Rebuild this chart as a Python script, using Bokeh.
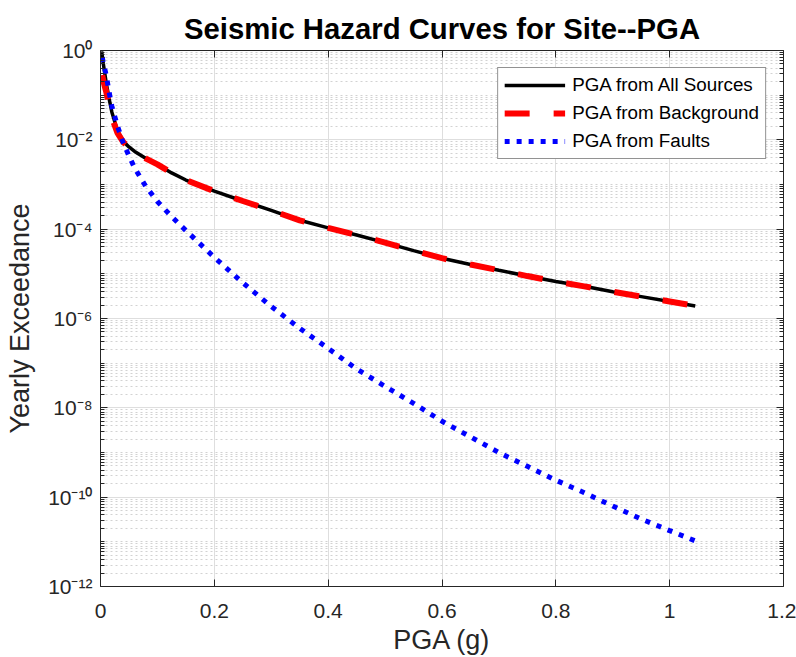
from bokeh.plotting import figure
from bokeh.models import FixedTicker, LogAxis, LinearAxis, Range1d, CustomJSTickFormatter
from bokeh.embed import file_html
from bokeh.resources import INLINE

# ---- data ----
pga_all = [0.002, 0.005, 0.01, 0.015, 0.02, 0.03, 0.04, 0.05, 0.06, 0.08, 0.1, 0.125, 0.15,
           0.2, 0.25, 0.3, 0.35, 0.4, 0.45, 0.5, 0.55, 0.6, 0.65, 0.7, 0.75, 0.8, 0.85,
           0.9, 0.95, 1.0, 1.045]
haz_all = [0.955, 0.50, 0.19, 0.0851, 0.0417, 0.0158, 0.00933, 0.00692, 0.00550, 0.00380,
           0.00282, 0.00182, 0.00126, 7.08e-4, 4.27e-4, 2.63e-4, 1.58e-4, 1.07e-4, 7.41e-5,
           5.01e-5, 3.31e-5, 2.24e-5, 1.62e-5, 1.20e-5, 8.91e-6, 6.76e-6, 5.25e-6, 3.98e-6,
           3.09e-6, 2.40e-6, 1.91e-6]

pga_bg = [0.003, 0.005, 0.01, 0.015, 0.02, 0.03, 0.04, 0.05, 0.06, 0.08, 0.1, 0.125, 0.15,
          0.2, 0.25, 0.3, 0.35, 0.4, 0.45, 0.5, 0.55, 0.6, 0.65, 0.7, 0.75, 0.8, 0.85,
          0.9, 0.95, 1.0, 1.045]
haz_bg = [0.282, 0.209, 0.120, 0.0603, 0.0316, 0.0141, 0.00891, 0.00676, 0.00550, 0.00380,
          0.00282, 0.00182, 0.00126, 7.08e-4, 4.27e-4, 2.63e-4, 1.58e-4, 1.07e-4, 7.41e-5,
          5.01e-5, 3.31e-5, 2.24e-5, 1.62e-5, 1.20e-5, 8.91e-6, 6.76e-6, 5.25e-6, 3.98e-6,
          3.09e-6, 2.40e-6, 1.91e-6]

pga_flt = [0.003, 0.005, 0.01, 0.015, 0.02, 0.03, 0.04, 0.05, 0.06, 0.08, 0.1, 0.125, 0.15,
           0.2, 0.25, 0.3, 0.35, 0.4, 0.45, 0.5, 0.55, 0.6, 0.65, 0.7, 0.75, 0.8, 0.85,
           0.9, 0.95, 1.0, 1.045]
haz_flt = [0.708, 0.525, 0.282, 0.120, 0.0562, 0.0200, 0.00851, 0.00437, 0.00234, 8.91e-4,
           4.17e-4, 1.91e-4, 9.33e-5, 2.34e-5, 6.31e-6, 1.86e-6, 6.03e-7, 2.14e-7, 7.41e-8,
           3.02e-8, 1.26e-8, 5.01e-9, 2.24e-9, 1.0e-9, 4.90e-10, 2.40e-10, 1.26e-10,
           6.31e-11, 3.24e-11, 1.78e-11, 1.05e-11]

series_labels = ["PGA from All Sources", "PGA from Background", "PGA from Faults"]

x_ticks = [0, 0.2, 0.4, 0.6, 0.8, 1.0, 1.2]
x_tick_labels = ["0", "0.2", "0.4", "0.6", "0.8", "1", "1.2"]
y_ticks = [1e0, 1e-2, 1e-4, 1e-6, 1e-8, 1e-10, 1e-12]
y_tick_labels = ["10\u2070", "10\u207b\u00b2", "10\u207b\u2074", "10\u207b\u2076",
                 "10\u207b\u2078", "10\u207b\u00b9\u2070", "10\u207b\u00b9\u00b2"]

title_text = "Seismic Hazard Curves for Site--PGA"
x_label = "PGA (g)"
y_label = "Yearly Exceedance"

# minor tick positions on the log axis (1..9 x each decade)
y_minor = []
for e in range(-12, 0):
    for m in range(1, 10):
        if m == 1 and (e % 2 == 0):
            continue
        y_minor.append(float(f"{m}e{e}"))

FONT = "Liberation Sans"
AX = "#262626"

p = figure(width=796, height=657, x_range=Range1d(0, 1.2), y_range=Range1d(1e-12, 1.0),
           y_axis_type="log", output_backend="svg", toolbar_location=None,
           min_border_left=100, min_border_right=13, min_border_top=50, min_border_bottom=70,
           title=title_text)

p.background_fill_color = "white"
p.border_fill_color = "white"
p.outline_line_color = None

p.title.text_font = FONT
p.title.text_font_size = "29.3px"
p.title.text_font_style = "bold"
p.title.text_color = "black"
p.title.align = "center"
p.title.standoff = 12

xt = FixedTicker(ticks=x_ticks)
yt = FixedTicker(ticks=y_ticks, minor_ticks=y_minor)

xa = p.xaxis[0]
ya = p.yaxis[0]
xa.ticker = xt
ya.ticker = yt
xa.major_label_overrides = dict(zip(x_ticks, x_tick_labels))
ya.major_label_overrides = dict(zip(y_ticks, y_tick_labels))
xa.axis_label = x_label
ya.axis_label = y_label

for ax in (xa, ya):
    ax.axis_line_color = AX
    ax.axis_line_width = 1
    ax.major_tick_line_color = AX
    ax.major_tick_in = 7
    ax.major_tick_out = 0
    ax.minor_tick_in = 4
    ax.minor_tick_out = 0
    ax.minor_tick_line_color = AX
    ax.major_label_text_font = FONT
    ax.major_label_text_font_size = "21px"
    ax.major_label_text_color = AX
    ax.axis_label_text_font = FONT
    ax.axis_label_text_font_size = "27px"
    ax.axis_label_text_font_style = "normal"
    ax.axis_label_text_color = AX
xa.minor_tick_line_color = None
xa.major_label_standoff = 17
xa.axis_label_standoff = 4
ya.major_label_standoff = 8
ya.axis_label_standoff = 10

# grids
p.xgrid.ticker = xt
p.ygrid.ticker = yt
p.xgrid.grid_line_color = "#dedede"
p.ygrid.grid_line_color = "#dedede"
p.xgrid.grid_line_width = 1
p.ygrid.grid_line_width = 1
p.xgrid.minor_grid_line_color = None
p.ygrid.minor_grid_line_color = "#d2d2d2"
p.ygrid.minor_grid_line_dash = "2 3"
p.ygrid.minor_grid_line_width = 1

# box axes on top and right (ticks only)
blank = CustomJSTickFormatter(code="return ''")
top = LinearAxis(ticker=FixedTicker(ticks=x_ticks), formatter=blank,
                 major_label_standoff=0, major_tick_in=7, major_tick_out=0,
                 minor_tick_line_color=None, axis_line_color=AX, major_tick_line_color=AX,
                 major_label_text_font_size="1px")
right = LogAxis(ticker=FixedTicker(ticks=y_ticks, minor_ticks=y_minor), formatter=blank,
                major_label_standoff=0, major_tick_in=7, major_tick_out=0,
                minor_tick_in=4, minor_tick_out=0, minor_tick_line_color=AX,
                axis_line_color=AX, major_tick_line_color=AX,
                major_label_text_font_size="1px")
p.add_layout(top, "above")
p.add_layout(right, "right")

# curves
p.line(pga_all, haz_all, line_color="black", line_width=3.5, legend_label=series_labels[0])
p.line(pga_bg, haz_bg, line_color="red", line_width=6, line_dash="25 24",
       legend_label=series_labels[1])
p.line(pga_flt, haz_flt, line_color="blue", line_width=5, line_dash="5 7",
       legend_label=series_labels[2])

lg = p.legend[0]
lg.location = "top_right"
lg.margin = 17
lg.label_text_font = FONT
lg.label_text_font_size = "18.8px"
lg.label_text_color = "black"
lg.glyph_width = 61
lg.glyph_height = 20
lg.label_height = 20
lg.spacing = 6
lg.padding = 6
lg.label_standoff = 7
lg.border_line_color = AX
lg.border_line_width = 1
lg.background_fill_color = "white"
lg.background_fill_alpha = 1.0

open("out.html", "w").write(file_html(p, INLINE))
